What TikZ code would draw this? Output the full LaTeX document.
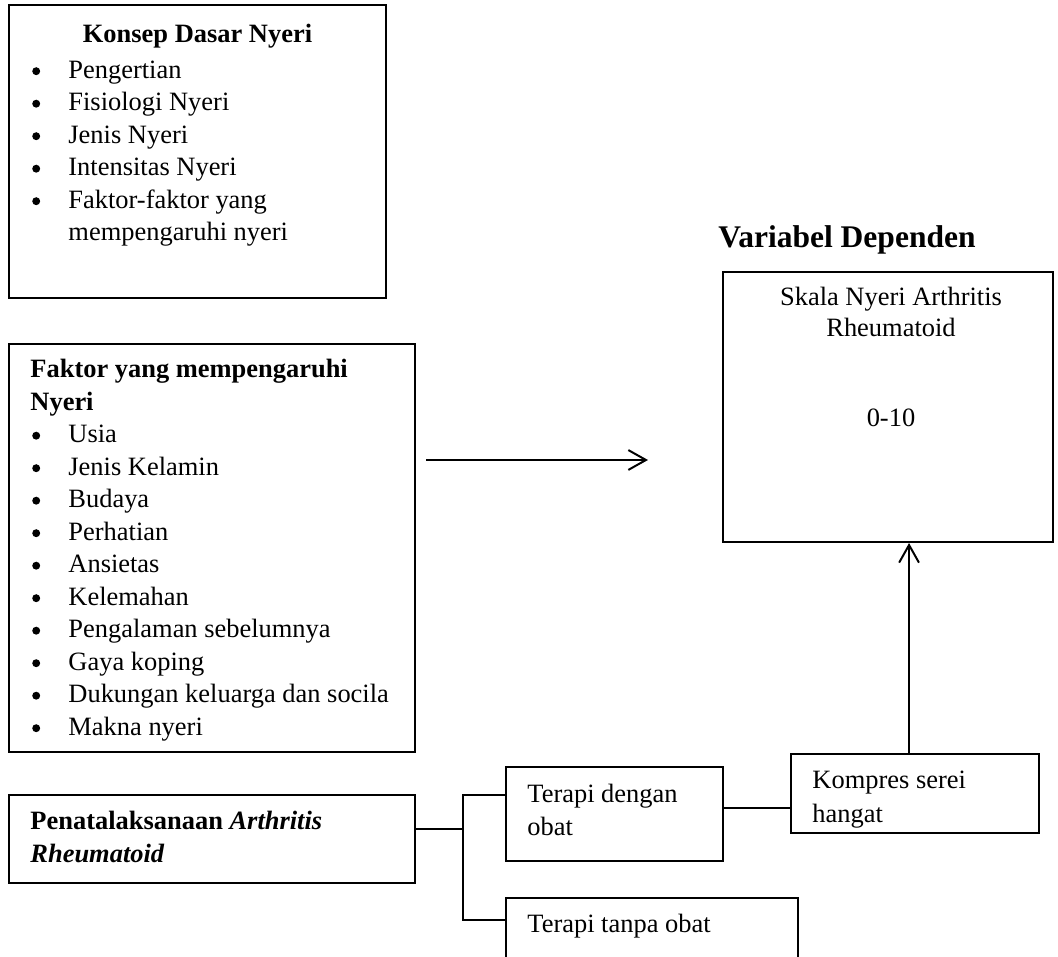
\documentclass[tikz,border=0pt]{standalone}
\usepackage{fontspec}
\setmainfont{Liberation Serif}
\usetikzlibrary{arrows.meta,positioning,calc,fit}

\begin{document}
\begin{tikzpicture}[
  x=0.4537pt, y=-0.4537pt,
  frame/.style={draw, line width=0.9pt, inner sep=0pt},
  txt/.style={inner sep=0pt, anchor=base west, font=\fontsize{12}{14.75}\selectfont},
  txtb/.style={txt, font=\fontsize{12}{14.75}\selectfont\bfseries},
  ctr/.style={txt, anchor=base},
  head/.style={inner sep=0pt, anchor=base west, font=\fontsize{14.3}{17}\selectfont\bfseries},
  dot/.style={circle, fill, inner sep=0pt, minimum size=3.6pt},
  wire/.style={line width=0.9pt},
  arr/.style={wire, -{Straight Barb[length=8pt,width=9pt]}}
]
\clip (0,0) rectangle (1058,957);

% ---- boxes ----
\node[frame, fit={(9,5) (386,298)}]      (konsep)  {};
\node[frame, fit={(9,344) (415,752)}]    (faktor)  {};
\node[frame, fit={(723,272) (1053,542)}] (skala)   {};
\node[frame, fit={(9,795) (415,883)}]    (penata)  {};
\node[frame, fit={(506,767) (723,861)}]  (dengan)  {};
\node[frame, fit={(506,898) (798,975)}]  (tanpa)   {};
\node[frame, fit={(791,754) (1039,833)}] (kompres) {};

% ---- konsep dasar nyeri ----
\node[txtb, anchor=base] (konsepT) at (197.5,43) {Konsep Dasar Nyeri};
\foreach \t [count=\i from 0] in {Pengertian,Fisiologi Nyeri,Jenis Nyeri,Intensitas Nyeri,Faktor-faktor yang}{
  \node[dot] (kb\i) at (36.2,71.2+32.5*\i) {};
  \node[txt] (ki\i) at (68,78.5+32.5*\i) {\t};
}
\node[txt] (ki5) at (68,240.5) {mempengaruhi nyeri};

% ---- faktor yang mempengaruhi nyeri ----
\node[txtb] (faktorT1) at (30,378)   {Faktor yang mempengaruhi};
\node[txtb] (faktorT2) at (30,410.5) {Nyeri};
\foreach \t [count=\i from 0] in {Usia,Jenis Kelamin,Budaya,Perhatian,Ansietas,Kelemahan,Pengalaman sebelumnya,Gaya koping,Dukungan keluarga dan socila,Makna nyeri}{
  \node[dot] (fb\i) at (36.2,435.7+32.5*\i) {};
  \node[txt] (fi\i) at (68,443+32.5*\i) {\t};
}

% ---- variabel dependen ----
\node[head] (varT)   at (718,248) {Variabel Dependen};
\node[ctr]  (skala1) at (891,306) {Skala Nyeri Arthritis};
\node[ctr]  (skala2) at (891,337) {Rheumatoid};
\node[ctr]  (skala3) at (891,427) {0-10};

% ---- penatalaksanaan and terapi ----
\node[txtb] (penataT1) at (30,830)   {Penatalaksanaan \textit{Arthritis}};
\node[txtb] (penataT2) at (30,862.5) {\textit{Rheumatoid}};
\node[txt]  (dengan1)  at (527,803)  {Terapi dengan};
\node[txt]  (dengan2)  at (527,836)  {obat};
\node[txt]  (tanpa1)   at (527,933)  {Terapi tanpa obat};
\node[txt]  (kompres1) at (812,789)  {Kompres serei};
\node[txt]  (kompres2) at (812,823)  {hangat};

% ---- connectors ----
\coordinate (arrA) at (426,460);
\coordinate (arrB) at (648,460);
\draw[arr] (arrA) -- (arrB);
\draw[arr] ([xshift=-2.7pt]kompres.north) -- ([xshift=-2.7pt]kompres.north |- skala.south);

\coordinate (fork) at (463,829);
\draw[wire] (penata.east |- fork) -- (fork);
\draw[wire] (dengan.west |- 0,795) -| (fork) |- (tanpa.west |- 0,920);
\draw[wire] (dengan.east |- 0,808) -- (kompres.west |- 0,808);

\end{tikzpicture}
\end{document}
